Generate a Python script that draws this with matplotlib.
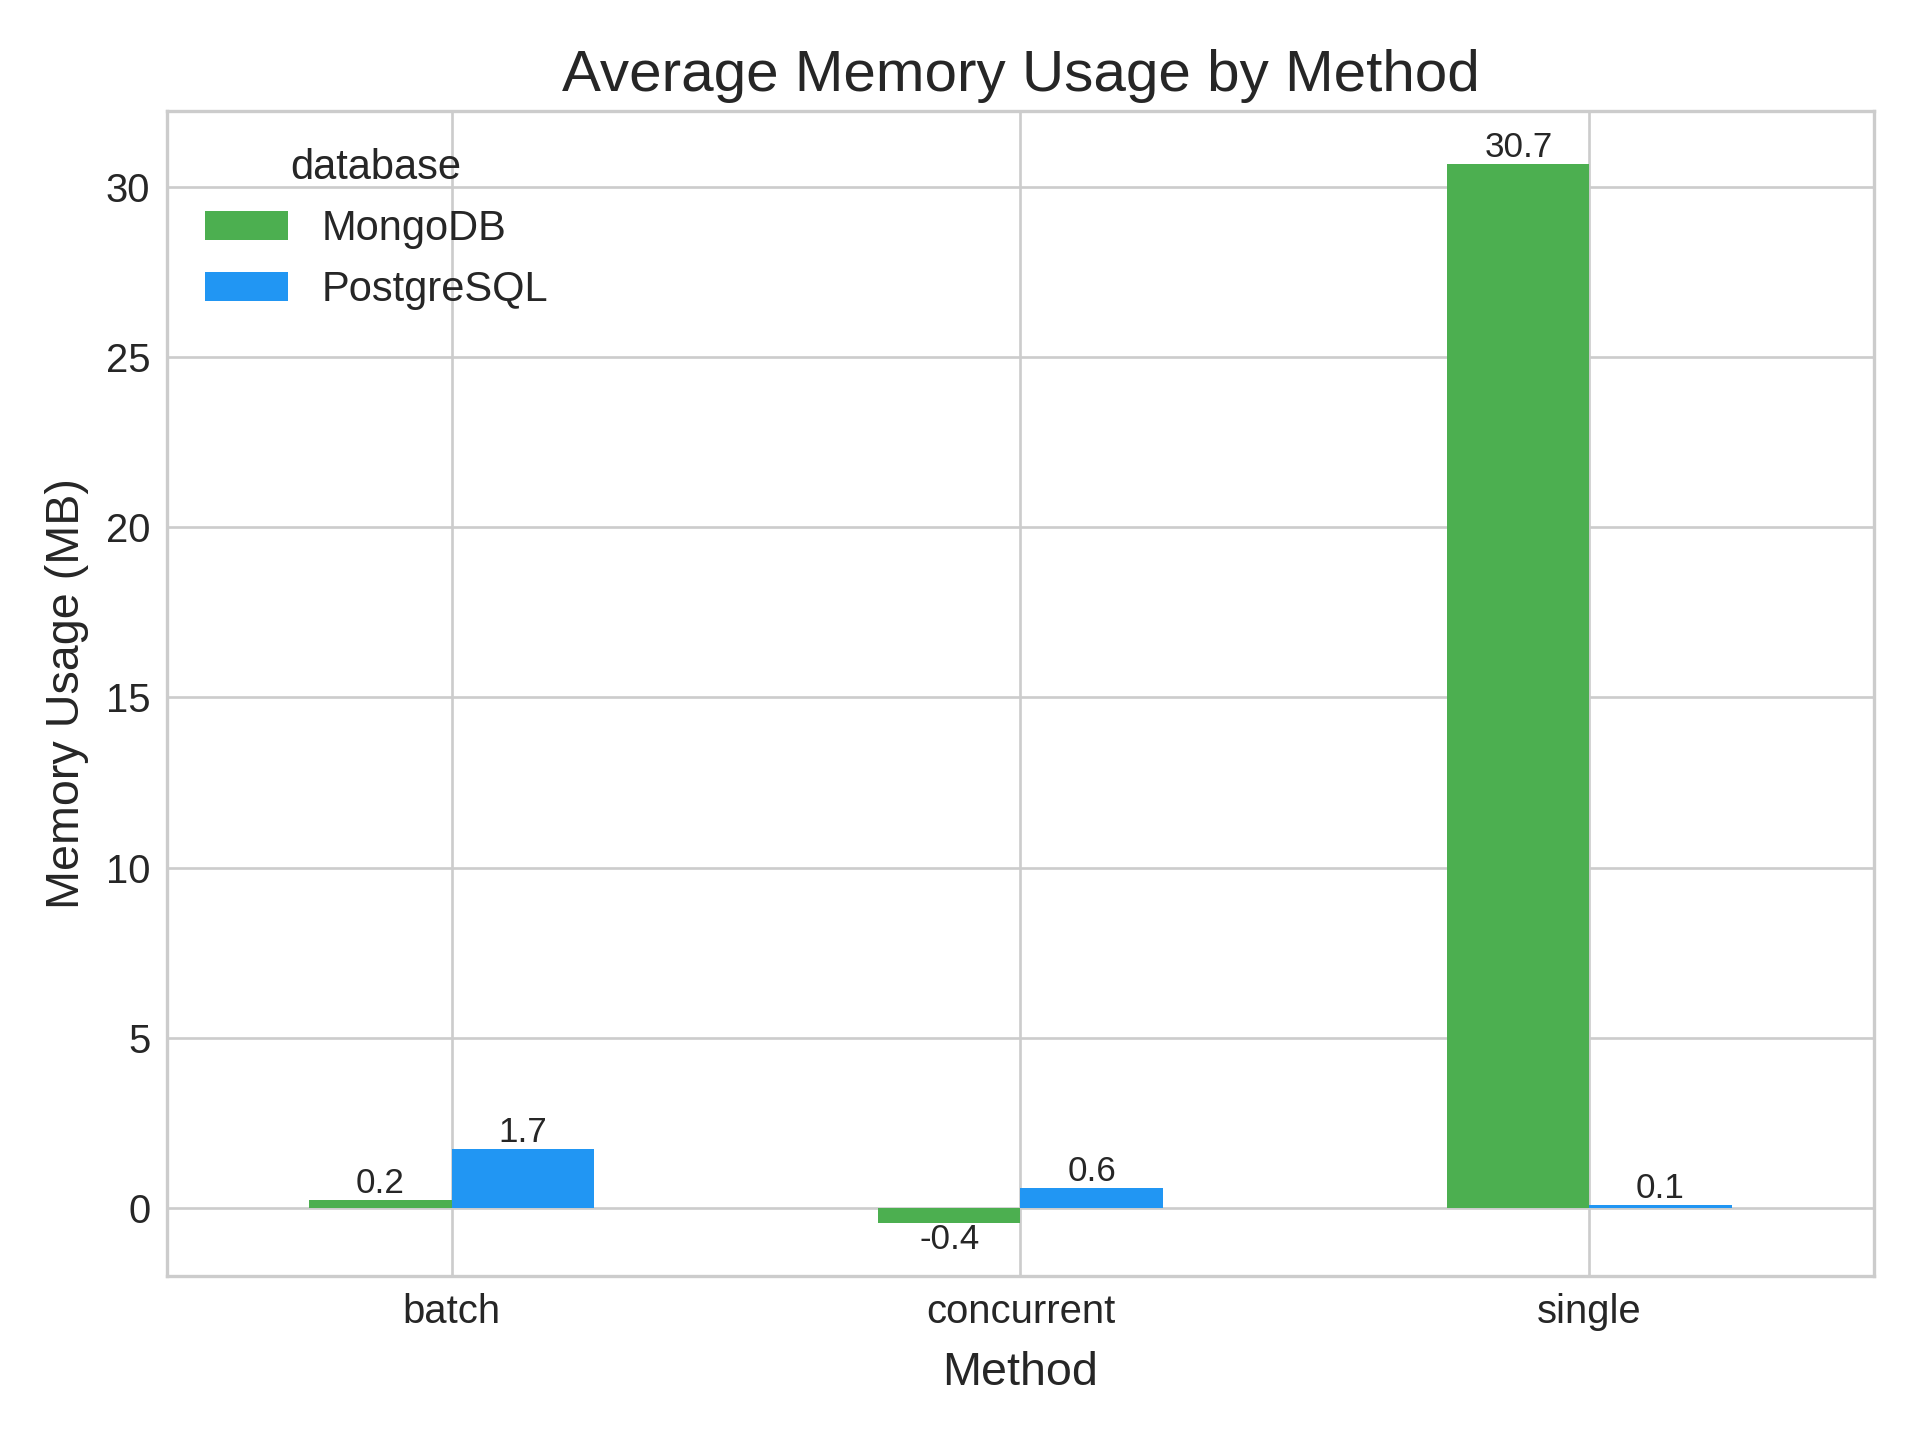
import numpy as np
import pandas as pd
import matplotlib
matplotlib.use("Agg")
import matplotlib.pyplot as plt

plt.style.use('seaborn-v0_8-whitegrid')
plt.rcParams['font.family'] = ['Liberation Sans', 'DejaVu Sans']

methods = ['batch', 'concurrent', 'single']
mongodb = [0.22, -0.44, 30.68]
postgres = [1.74, 0.58, 0.09]

df = pd.DataFrame({'MongoDB': mongodb, 'PostgreSQL': postgres}, index=methods)
df.index.name = 'method'
df.columns.name = 'database'

fig, ax = plt.subplots(figsize=(8, 6), dpi=240)
df.plot(kind='bar', ax=ax, color=['#4CAF50', '#2196F3'])

for c in ax.containers:
    ax.bar_label(c, fmt='%.1f', fontsize=10.5)

ax.set_title('Average Memory Usage by Method', fontsize=17.5)
ax.set_xlabel('Method', fontsize=14, labelpad=6)
ax.set_ylabel('Memory Usage (MB)', fontsize=14, labelpad=5)
ax.tick_params(axis='x', rotation=0, labelsize=12, pad=5)
ax.tick_params(axis='y', labelsize=12, pad=5)
ax.legend(title='database', fontsize=12.5, title_fontsize=12.5, loc='upper left')
for s in ax.spines.values():
    s.set_visible(True)
    s.set_color('#cccccc')
    s.set_linewidth(1.0)
ax.grid(True)

fig.subplots_adjust(left=0.087, right=0.976, top=0.923, bottom=0.114)
plt.savefig('out.png')
